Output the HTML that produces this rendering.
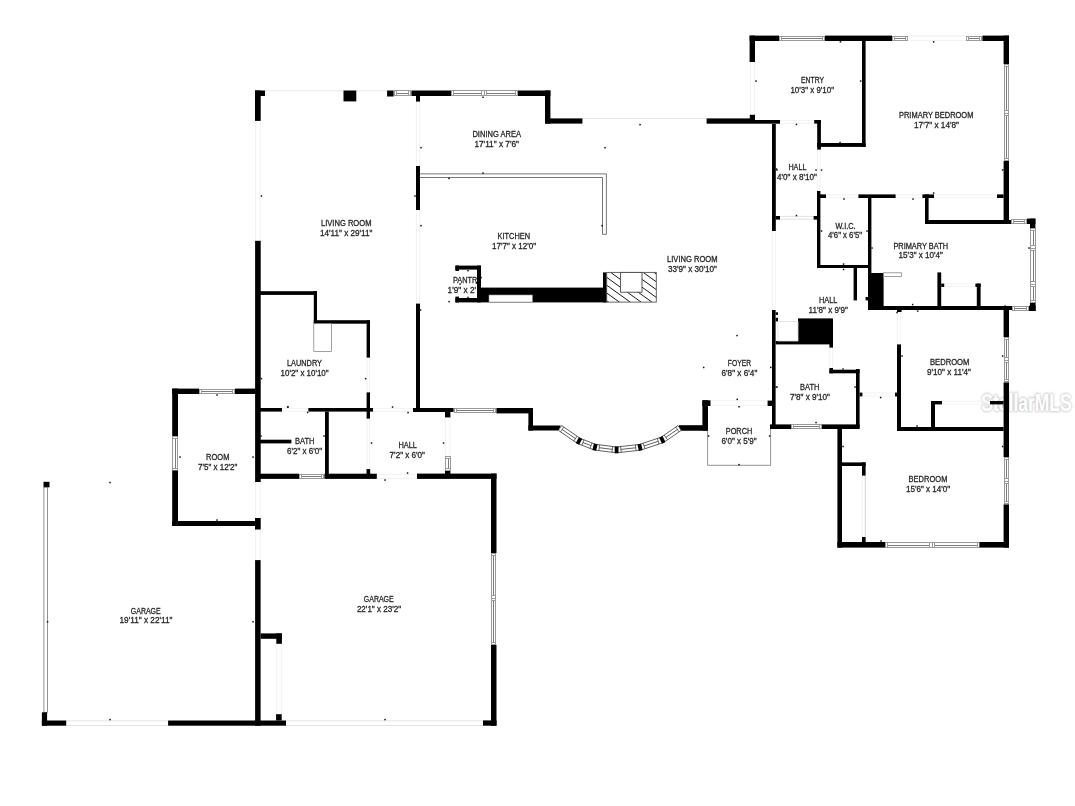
<!DOCTYPE html>
<html><head><meta charset="utf-8"><title>Floor plan</title>
<style>
html,body{margin:0;padding:0;background:#fff;}
body{width:1075px;height:806px;overflow:hidden;font-family:"Liberation Sans",sans-serif;}
svg{display:block}
svg text{font-family:"Liberation Sans",sans-serif;font-size:8.4px;fill:#262626;stroke:#262626;stroke-width:0.28px;text-anchor:middle;}
</style></head><body>
<svg width="1075" height="806" viewBox="0 0 1075 806">
<rect width="1075" height="806" fill="#fff"/>
<defs><filter id="bl" x="-10%" y="-30%" width="120%" height="160%"><feGaussianBlur stdDeviation="0.9"/></filter></defs>
<g id="wm"><text x="1026.5" y="411" textLength="90.4" lengthAdjust="spacingAndGlyphs" filter="url(#bl)" style="font-size:23px;fill:#c4c4c4;stroke:#c4c4c4;stroke-width:1.3px;font-weight:bold">StellarMLS</text>
<text x="1026.5" y="411" textLength="90.4" lengthAdjust="spacingAndGlyphs" style="font-size:23px;fill:#fff;stroke:none;font-weight:bold">StellarMLS</text></g>
<g id="pantrytext" opacity="0.999"><g><text x="467.6" y="282.85" textLength="29.2" lengthAdjust="spacingAndGlyphs">PANTRY</text><text x="447.6" y="292.85" textLength="28.6" lengthAdjust="spacingAndGlyphs" style="text-anchor:start">1'9&quot; x 2'</text></g></g>
<g id="plan" shape-rendering="auto">
<line x1="255.50" y1="120.90" x2="255.50" y2="240.80" stroke="#ededed" stroke-width="0.8"/>
<line x1="260.30" y1="120.90" x2="260.30" y2="240.80" stroke="#ededed" stroke-width="0.8"/>
<line x1="265.00" y1="90.80" x2="343.50" y2="90.80" stroke="#e4e4e4" stroke-width="0.8"/>
<line x1="356.30" y1="90.80" x2="387.00" y2="90.80" stroke="#e4e4e4" stroke-width="0.8"/>
<line x1="416.40" y1="101.60" x2="416.40" y2="166.00" stroke="#ededed" stroke-width="0.8"/>
<line x1="419.60" y1="101.60" x2="419.60" y2="166.00" stroke="#ededed" stroke-width="0.8"/>
<line x1="416.40" y1="210.00" x2="416.40" y2="303.60" stroke="#ededed" stroke-width="0.8"/>
<line x1="419.60" y1="210.00" x2="419.60" y2="303.60" stroke="#ededed" stroke-width="0.8"/>
<line x1="582.40" y1="118.50" x2="706.40" y2="118.50" stroke="#dcdcdc" stroke-width="0.8"/>
<line x1="750.40" y1="62.00" x2="750.40" y2="115.00" stroke="#ededed" stroke-width="0.8"/>
<line x1="754.60" y1="62.00" x2="754.60" y2="115.00" stroke="#ededed" stroke-width="0.8"/>
<line x1="908.00" y1="36.00" x2="966.00" y2="36.00" stroke="#ededed" stroke-width="0.8"/>
<line x1="908.00" y1="40.60" x2="966.00" y2="40.60" stroke="#ededed" stroke-width="0.8"/>
<line x1="780.00" y1="120.40" x2="814.00" y2="120.40" stroke="#ededed" stroke-width="0.8"/>
<line x1="780.00" y1="123.30" x2="814.00" y2="123.30" stroke="#ededed" stroke-width="0.8"/>
<line x1="817.40" y1="149.60" x2="817.40" y2="191.00" stroke="#ededed" stroke-width="0.8"/>
<line x1="820.00" y1="149.60" x2="820.00" y2="191.00" stroke="#ededed" stroke-width="0.8"/>
<line x1="780.00" y1="216.40" x2="813.60" y2="216.40" stroke="#dcdcdc" stroke-width="0.8"/>
<line x1="780.00" y1="219.20" x2="813.60" y2="219.20" stroke="#dcdcdc" stroke-width="0.8"/>
<line x1="826.00" y1="194.80" x2="858.40" y2="194.80" stroke="#ededed" stroke-width="0.8"/>
<line x1="826.00" y1="197.60" x2="858.40" y2="197.60" stroke="#ededed" stroke-width="0.8"/>
<line x1="895.60" y1="194.80" x2="922.40" y2="194.80" stroke="#ededed" stroke-width="0.8"/>
<line x1="895.60" y1="197.60" x2="922.40" y2="197.60" stroke="#ededed" stroke-width="0.8"/>
<line x1="934.00" y1="194.80" x2="997.00" y2="194.80" stroke="#ededed" stroke-width="0.8"/>
<line x1="934.00" y1="197.60" x2="997.00" y2="197.60" stroke="#ededed" stroke-width="0.8"/>
<line x1="772.40" y1="231.00" x2="772.40" y2="310.00" stroke="#ededed" stroke-width="0.8"/>
<line x1="775.20" y1="231.00" x2="775.20" y2="310.00" stroke="#ededed" stroke-width="0.8"/>
<line x1="897.40" y1="312.00" x2="897.40" y2="344.40" stroke="#ededed" stroke-width="0.8"/>
<line x1="900.60" y1="312.00" x2="900.60" y2="344.40" stroke="#ededed" stroke-width="0.8"/>
<line x1="829.80" y1="347.60" x2="829.80" y2="368.00" stroke="#ededed" stroke-width="0.8"/>
<line x1="832.60" y1="347.60" x2="832.60" y2="368.00" stroke="#ededed" stroke-width="0.8"/>
<line x1="862.40" y1="393.00" x2="895.00" y2="393.00" stroke="#ededed" stroke-width="0.8"/>
<line x1="862.40" y1="396.00" x2="895.00" y2="396.00" stroke="#ededed" stroke-width="0.8"/>
<line x1="942.00" y1="401.40" x2="990.00" y2="401.40" stroke="#ededed" stroke-width="0.8"/>
<line x1="942.00" y1="404.00" x2="990.00" y2="404.00" stroke="#ededed" stroke-width="0.8"/>
<line x1="865.30" y1="475.60" x2="865.30" y2="537.00" stroke="#c8c8c8" stroke-width="0.8"/>
<line x1="862.40" y1="475.60" x2="862.40" y2="537.00" stroke="#f0f0f0" stroke-width="0.8"/>
<line x1="944.00" y1="284.00" x2="975.60" y2="284.00" stroke="#ededed" stroke-width="0.8"/>
<line x1="944.00" y1="286.60" x2="975.60" y2="286.60" stroke="#ededed" stroke-width="0.8"/>
<line x1="710.50" y1="400.70" x2="768.00" y2="400.70" stroke="#ededed" stroke-width="0.8"/>
<line x1="710.50" y1="405.60" x2="768.00" y2="405.60" stroke="#ededed" stroke-width="0.8"/>
<line x1="367.00" y1="357.60" x2="367.00" y2="392.40" stroke="#ededed" stroke-width="0.8"/>
<line x1="369.60" y1="357.60" x2="369.60" y2="392.40" stroke="#ededed" stroke-width="0.8"/>
<line x1="282.00" y1="408.40" x2="308.40" y2="408.40" stroke="#ededed" stroke-width="0.8"/>
<line x1="282.00" y1="411.20" x2="308.40" y2="411.20" stroke="#ededed" stroke-width="0.8"/>
<line x1="373.00" y1="408.40" x2="413.00" y2="408.40" stroke="#ededed" stroke-width="0.8"/>
<line x1="373.00" y1="411.20" x2="413.00" y2="411.20" stroke="#ededed" stroke-width="0.8"/>
<line x1="367.00" y1="418.60" x2="367.00" y2="469.00" stroke="#ededed" stroke-width="0.8"/>
<line x1="369.60" y1="418.60" x2="369.60" y2="469.00" stroke="#ededed" stroke-width="0.8"/>
<line x1="445.40" y1="417.40" x2="445.40" y2="456.00" stroke="#ededed" stroke-width="0.8"/>
<line x1="450.00" y1="417.40" x2="450.00" y2="456.00" stroke="#ededed" stroke-width="0.8"/>
<line x1="377.00" y1="474.40" x2="417.00" y2="474.40" stroke="#ededed" stroke-width="0.8"/>
<line x1="377.00" y1="478.60" x2="417.00" y2="478.60" stroke="#ededed" stroke-width="0.8"/>
<line x1="255.50" y1="482.00" x2="255.50" y2="518.00" stroke="#ededed" stroke-width="0.8"/>
<line x1="260.30" y1="482.00" x2="260.30" y2="518.00" stroke="#ededed" stroke-width="0.8"/>
<line x1="255.50" y1="529.50" x2="255.50" y2="560.00" stroke="#ededed" stroke-width="0.8"/>
<line x1="260.30" y1="529.50" x2="260.30" y2="560.00" stroke="#ededed" stroke-width="0.8"/>
<line x1="66.20" y1="720.80" x2="168.10" y2="720.80" stroke="#dcdcdc" stroke-width="0.8"/>
<line x1="66.20" y1="725.50" x2="168.10" y2="725.50" stroke="#dcdcdc" stroke-width="0.8"/>
<line x1="286.00" y1="720.80" x2="483.00" y2="720.80" stroke="#dcdcdc" stroke-width="0.8"/>
<line x1="286.00" y1="725.50" x2="483.00" y2="725.50" stroke="#dcdcdc" stroke-width="0.8"/>
<line x1="276.70" y1="643.80" x2="276.70" y2="714.20" stroke="#ededed" stroke-width="0.8"/>
<line x1="281.30" y1="643.80" x2="281.30" y2="714.20" stroke="#ededed" stroke-width="0.8"/>
<rect x="255.00" y="90.50" width="5.70" height="30.40" fill="#000"/>
<rect x="255.00" y="90.50" width="10.00" height="5.50" fill="#000"/>
<rect x="343.50" y="90.50" width="12.80" height="10.90" fill="#000"/>
<rect x="387.10" y="90.50" width="6.50" height="6.00" fill="#000"/>
<rect x="394.00" y="90.00" width="17.00" height="6.00" fill="#fff" shape-rendering="crispEdges"/>
<rect x="394.00" y="90.00" width="17.00" height="1.00" fill="#9a9a9a" shape-rendering="crispEdges"/>
<rect x="394.00" y="95.00" width="17.00" height="1.00" fill="#9a9a9a" shape-rendering="crispEdges"/>
<rect x="397.00" y="93.00" width="11.00" height="1.00" fill="#7c7c7c" shape-rendering="crispEdges"/>
<rect x="394.00" y="90.00" width="1.00" height="6.00" fill="#9a9a9a" shape-rendering="crispEdges"/>
<rect x="396.00" y="90.00" width="1.00" height="6.00" fill="#9a9a9a" shape-rendering="crispEdges"/>
<rect x="410.00" y="90.00" width="1.00" height="6.00" fill="#9a9a9a" shape-rendering="crispEdges"/>
<rect x="408.00" y="90.00" width="1.00" height="6.00" fill="#9a9a9a" shape-rendering="crispEdges"/>
<rect x="411.40" y="90.50" width="39.60" height="5.50" fill="#000"/>
<rect x="416.00" y="96.00" width="4.00" height="5.60" fill="#000"/>
<rect x="451.00" y="90.00" width="67.00" height="6.00" fill="#fff" shape-rendering="crispEdges"/>
<rect x="451.00" y="90.00" width="67.00" height="1.00" fill="#9a9a9a" shape-rendering="crispEdges"/>
<rect x="451.00" y="95.00" width="67.00" height="1.00" fill="#9a9a9a" shape-rendering="crispEdges"/>
<rect x="454.00" y="93.00" width="61.00" height="1.00" fill="#7c7c7c" shape-rendering="crispEdges"/>
<rect x="451.00" y="90.00" width="1.00" height="6.00" fill="#9a9a9a" shape-rendering="crispEdges"/>
<rect x="453.00" y="90.00" width="1.00" height="6.00" fill="#9a9a9a" shape-rendering="crispEdges"/>
<rect x="517.00" y="90.00" width="1.00" height="6.00" fill="#9a9a9a" shape-rendering="crispEdges"/>
<rect x="515.00" y="90.00" width="1.00" height="6.00" fill="#9a9a9a" shape-rendering="crispEdges"/>
<rect x="482.00" y="91.00" width="5.00" height="4.00" fill="#fff" shape-rendering="crispEdges"/>
<rect x="481.00" y="90.00" width="1.00" height="6.00" fill="#9a9a9a" shape-rendering="crispEdges"/>
<rect x="484.00" y="90.00" width="1.00" height="6.00" fill="#9a9a9a" shape-rendering="crispEdges"/>
<rect x="486.00" y="90.00" width="1.00" height="6.00" fill="#9a9a9a" shape-rendering="crispEdges"/>
<rect x="518.00" y="90.50" width="32.40" height="5.50" fill="#000"/>
<rect x="545.00" y="90.50" width="5.40" height="33.10" fill="#000"/>
<rect x="545.00" y="118.40" width="37.40" height="5.20" fill="#000"/>
<rect x="706.60" y="118.40" width="48.40" height="5.30" fill="#000"/>
<rect x="755.00" y="120.00" width="25.00" height="3.70" fill="#000"/>
<rect x="749.80" y="114.80" width="5.20" height="4.20" fill="#000"/>
<rect x="749.60" y="35.60" width="5.40" height="26.40" fill="#000"/>
<rect x="749.60" y="35.60" width="29.40" height="5.40" fill="#000"/>
<rect x="779.00" y="36.00" width="46.00" height="5.00" fill="#fff" shape-rendering="crispEdges"/>
<rect x="779.00" y="36.00" width="46.00" height="1.00" fill="#9a9a9a" shape-rendering="crispEdges"/>
<rect x="779.00" y="40.00" width="46.00" height="1.00" fill="#9a9a9a" shape-rendering="crispEdges"/>
<rect x="782.00" y="38.00" width="40.00" height="1.00" fill="#7c7c7c" shape-rendering="crispEdges"/>
<rect x="779.00" y="36.00" width="1.00" height="5.00" fill="#9a9a9a" shape-rendering="crispEdges"/>
<rect x="781.00" y="36.00" width="1.00" height="5.00" fill="#9a9a9a" shape-rendering="crispEdges"/>
<rect x="824.00" y="36.00" width="1.00" height="5.00" fill="#9a9a9a" shape-rendering="crispEdges"/>
<rect x="822.00" y="36.00" width="1.00" height="5.00" fill="#9a9a9a" shape-rendering="crispEdges"/>
<rect x="825.00" y="35.60" width="67.00" height="5.40" fill="#000"/>
<rect x="892.00" y="36.00" width="16.00" height="5.00" fill="#fff" shape-rendering="crispEdges"/>
<rect x="892.00" y="36.00" width="16.00" height="1.00" fill="#9a9a9a" shape-rendering="crispEdges"/>
<rect x="892.00" y="40.00" width="16.00" height="1.00" fill="#9a9a9a" shape-rendering="crispEdges"/>
<rect x="895.00" y="38.00" width="10.00" height="1.00" fill="#7c7c7c" shape-rendering="crispEdges"/>
<rect x="892.00" y="36.00" width="1.00" height="5.00" fill="#9a9a9a" shape-rendering="crispEdges"/>
<rect x="894.00" y="36.00" width="1.00" height="5.00" fill="#9a9a9a" shape-rendering="crispEdges"/>
<rect x="907.00" y="36.00" width="1.00" height="5.00" fill="#9a9a9a" shape-rendering="crispEdges"/>
<rect x="905.00" y="36.00" width="1.00" height="5.00" fill="#9a9a9a" shape-rendering="crispEdges"/>
<rect x="966.00" y="36.00" width="16.00" height="5.00" fill="#fff" shape-rendering="crispEdges"/>
<rect x="966.00" y="36.00" width="16.00" height="1.00" fill="#9a9a9a" shape-rendering="crispEdges"/>
<rect x="966.00" y="40.00" width="16.00" height="1.00" fill="#9a9a9a" shape-rendering="crispEdges"/>
<rect x="969.00" y="38.00" width="10.00" height="1.00" fill="#7c7c7c" shape-rendering="crispEdges"/>
<rect x="966.00" y="36.00" width="1.00" height="5.00" fill="#9a9a9a" shape-rendering="crispEdges"/>
<rect x="968.00" y="36.00" width="1.00" height="5.00" fill="#9a9a9a" shape-rendering="crispEdges"/>
<rect x="981.00" y="36.00" width="1.00" height="5.00" fill="#9a9a9a" shape-rendering="crispEdges"/>
<rect x="979.00" y="36.00" width="1.00" height="5.00" fill="#9a9a9a" shape-rendering="crispEdges"/>
<rect x="982.40" y="35.60" width="26.60" height="5.40" fill="#000"/>
<rect x="1003.60" y="35.60" width="5.40" height="28.40" fill="#000"/>
<rect x="1004.00" y="64.00" width="5.00" height="97.00" fill="#fff" shape-rendering="crispEdges"/>
<rect x="1004.00" y="64.00" width="1.00" height="97.00" fill="#9a9a9a" shape-rendering="crispEdges"/>
<rect x="1008.00" y="64.00" width="1.00" height="97.00" fill="#9a9a9a" shape-rendering="crispEdges"/>
<rect x="1006.00" y="67.00" width="1.00" height="91.00" fill="#7c7c7c" shape-rendering="crispEdges"/>
<rect x="1004.00" y="64.00" width="5.00" height="1.00" fill="#9a9a9a" shape-rendering="crispEdges"/>
<rect x="1004.00" y="66.00" width="5.00" height="1.00" fill="#9a9a9a" shape-rendering="crispEdges"/>
<rect x="1004.00" y="160.00" width="5.00" height="1.00" fill="#9a9a9a" shape-rendering="crispEdges"/>
<rect x="1004.00" y="158.00" width="5.00" height="1.00" fill="#9a9a9a" shape-rendering="crispEdges"/>
<rect x="1005.00" y="111.00" width="3.00" height="5.00" fill="#fff" shape-rendering="crispEdges"/>
<rect x="1004.00" y="110.00" width="5.00" height="1.00" fill="#9a9a9a" shape-rendering="crispEdges"/>
<rect x="1004.00" y="113.00" width="5.00" height="1.00" fill="#9a9a9a" shape-rendering="crispEdges"/>
<rect x="1004.00" y="115.00" width="5.00" height="1.00" fill="#9a9a9a" shape-rendering="crispEdges"/>
<rect x="1003.60" y="161.00" width="5.40" height="63.00" fill="#000"/>
<rect x="862.00" y="41.00" width="3.60" height="106.00" fill="#000"/>
<rect x="817.20" y="143.00" width="48.40" height="3.90" fill="#000"/>
<rect x="817.20" y="120.00" width="3.70" height="29.60" fill="#000"/>
<rect x="814.20" y="120.00" width="6.70" height="3.60" fill="#000"/>
<rect x="772.00" y="124.00" width="3.80" height="107.00" fill="#000"/>
<rect x="775.60" y="216.00" width="4.40" height="3.60" fill="#000"/>
<rect x="813.60" y="216.00" width="4.00" height="3.60" fill="#000"/>
<rect x="817.00" y="191.00" width="3.40" height="77.00" fill="#000"/>
<rect x="817.00" y="194.40" width="9.00" height="3.60" fill="#000"/>
<rect x="858.40" y="194.40" width="37.20" height="3.60" fill="#000"/>
<rect x="868.00" y="198.00" width="3.40" height="109.00" fill="#000"/>
<rect x="817.00" y="265.00" width="54.00" height="3.00" fill="#000"/>
<rect x="853.60" y="268.00" width="3.40" height="32.40" fill="#000"/>
<rect x="865.60" y="297.00" width="2.40" height="3.40" fill="#000"/>
<rect x="922.40" y="194.40" width="11.60" height="3.60" fill="#000"/>
<rect x="925.00" y="194.40" width="3.60" height="29.60" fill="#000"/>
<rect x="925.00" y="220.00" width="86.00" height="4.00" fill="#000"/>
<rect x="997.00" y="194.40" width="6.60" height="3.60" fill="#000"/>
<rect x="1011.00" y="219.00" width="16.00" height="5.00" fill="#fff" shape-rendering="crispEdges"/>
<rect x="1011.00" y="219.00" width="16.00" height="1.00" fill="#9a9a9a" shape-rendering="crispEdges"/>
<rect x="1011.00" y="223.00" width="16.00" height="1.00" fill="#9a9a9a" shape-rendering="crispEdges"/>
<rect x="1014.00" y="221.00" width="10.00" height="1.00" fill="#7c7c7c" shape-rendering="crispEdges"/>
<rect x="1011.00" y="219.00" width="1.00" height="5.00" fill="#9a9a9a" shape-rendering="crispEdges"/>
<rect x="1013.00" y="219.00" width="1.00" height="5.00" fill="#9a9a9a" shape-rendering="crispEdges"/>
<rect x="1026.00" y="219.00" width="1.00" height="5.00" fill="#9a9a9a" shape-rendering="crispEdges"/>
<rect x="1024.00" y="219.00" width="1.00" height="5.00" fill="#9a9a9a" shape-rendering="crispEdges"/>
<rect x="1027.00" y="218.60" width="8.40" height="5.40" fill="#000"/>
<rect x="1030.00" y="218.60" width="5.40" height="9.80" fill="#000"/>
<rect x="1030.00" y="228.00" width="6.00" height="75.00" fill="#fff" shape-rendering="crispEdges"/>
<rect x="1030.00" y="228.00" width="1.00" height="75.00" fill="#9a9a9a" shape-rendering="crispEdges"/>
<rect x="1035.00" y="228.00" width="1.00" height="75.00" fill="#9a9a9a" shape-rendering="crispEdges"/>
<rect x="1033.00" y="231.00" width="1.00" height="69.00" fill="#7c7c7c" shape-rendering="crispEdges"/>
<rect x="1030.00" y="228.00" width="6.00" height="1.00" fill="#9a9a9a" shape-rendering="crispEdges"/>
<rect x="1030.00" y="230.00" width="6.00" height="1.00" fill="#9a9a9a" shape-rendering="crispEdges"/>
<rect x="1030.00" y="302.00" width="6.00" height="1.00" fill="#9a9a9a" shape-rendering="crispEdges"/>
<rect x="1030.00" y="300.00" width="6.00" height="1.00" fill="#9a9a9a" shape-rendering="crispEdges"/>
<rect x="1031.00" y="246.00" width="4.00" height="5.00" fill="#fff" shape-rendering="crispEdges"/>
<rect x="1030.00" y="245.00" width="6.00" height="1.00" fill="#9a9a9a" shape-rendering="crispEdges"/>
<rect x="1030.00" y="248.00" width="6.00" height="1.00" fill="#9a9a9a" shape-rendering="crispEdges"/>
<rect x="1030.00" y="250.00" width="6.00" height="1.00" fill="#9a9a9a" shape-rendering="crispEdges"/>
<rect x="1031.00" y="282.00" width="4.00" height="5.00" fill="#fff" shape-rendering="crispEdges"/>
<rect x="1030.00" y="281.00" width="6.00" height="1.00" fill="#9a9a9a" shape-rendering="crispEdges"/>
<rect x="1030.00" y="284.00" width="6.00" height="1.00" fill="#9a9a9a" shape-rendering="crispEdges"/>
<rect x="1030.00" y="286.00" width="6.00" height="1.00" fill="#9a9a9a" shape-rendering="crispEdges"/>
<rect x="1030.00" y="303.00" width="5.60" height="8.00" fill="#000"/>
<rect x="1029.00" y="305.60" width="6.60" height="5.40" fill="#000"/>
<rect x="1012.00" y="306.00" width="17.00" height="5.00" fill="#fff" shape-rendering="crispEdges"/>
<rect x="1012.00" y="306.00" width="17.00" height="1.00" fill="#9a9a9a" shape-rendering="crispEdges"/>
<rect x="1012.00" y="310.00" width="17.00" height="1.00" fill="#9a9a9a" shape-rendering="crispEdges"/>
<rect x="1015.00" y="308.00" width="11.00" height="1.00" fill="#7c7c7c" shape-rendering="crispEdges"/>
<rect x="1012.00" y="306.00" width="1.00" height="5.00" fill="#9a9a9a" shape-rendering="crispEdges"/>
<rect x="1014.00" y="306.00" width="1.00" height="5.00" fill="#9a9a9a" shape-rendering="crispEdges"/>
<rect x="1028.00" y="306.00" width="1.00" height="5.00" fill="#9a9a9a" shape-rendering="crispEdges"/>
<rect x="1026.00" y="306.00" width="1.00" height="5.00" fill="#9a9a9a" shape-rendering="crispEdges"/>
<rect x="870.00" y="273.00" width="13.60" height="34.00" fill="#000"/>
<rect x="883.6" y="272.8" width="18" height="3.6" fill="#fff" stroke="#888" stroke-width="0.8"/>
<rect x="937.40" y="272.40" width="3.80" height="34.60" fill="#000"/>
<rect x="941.20" y="283.60" width="3.00" height="3.40" fill="#000"/>
<rect x="976.80" y="283.60" width="3.80" height="23.40" fill="#000"/>
<rect x="975.40" y="283.60" width="5.20" height="3.40" fill="#000"/>
<rect x="868.00" y="306.00" width="144.00" height="4.00" fill="#000"/>
<rect x="1003.60" y="310.00" width="5.40" height="27.00" fill="#000"/>
<rect x="1004.00" y="337.00" width="5.00" height="45.00" fill="#fff" shape-rendering="crispEdges"/>
<rect x="1004.00" y="337.00" width="1.00" height="45.00" fill="#9a9a9a" shape-rendering="crispEdges"/>
<rect x="1008.00" y="337.00" width="1.00" height="45.00" fill="#9a9a9a" shape-rendering="crispEdges"/>
<rect x="1006.00" y="340.00" width="1.00" height="39.00" fill="#7c7c7c" shape-rendering="crispEdges"/>
<rect x="1004.00" y="337.00" width="5.00" height="1.00" fill="#9a9a9a" shape-rendering="crispEdges"/>
<rect x="1004.00" y="339.00" width="5.00" height="1.00" fill="#9a9a9a" shape-rendering="crispEdges"/>
<rect x="1004.00" y="381.00" width="5.00" height="1.00" fill="#9a9a9a" shape-rendering="crispEdges"/>
<rect x="1004.00" y="379.00" width="5.00" height="1.00" fill="#9a9a9a" shape-rendering="crispEdges"/>
<rect x="1005.00" y="358.00" width="3.00" height="5.00" fill="#fff" shape-rendering="crispEdges"/>
<rect x="1004.00" y="357.00" width="5.00" height="1.00" fill="#9a9a9a" shape-rendering="crispEdges"/>
<rect x="1004.00" y="360.00" width="5.00" height="1.00" fill="#9a9a9a" shape-rendering="crispEdges"/>
<rect x="1004.00" y="362.00" width="5.00" height="1.00" fill="#9a9a9a" shape-rendering="crispEdges"/>
<rect x="1003.60" y="382.40" width="5.40" height="74.60" fill="#000"/>
<rect x="1004.00" y="457.00" width="5.00" height="47.00" fill="#fff" shape-rendering="crispEdges"/>
<rect x="1004.00" y="457.00" width="1.00" height="47.00" fill="#9a9a9a" shape-rendering="crispEdges"/>
<rect x="1008.00" y="457.00" width="1.00" height="47.00" fill="#9a9a9a" shape-rendering="crispEdges"/>
<rect x="1006.00" y="460.00" width="1.00" height="41.00" fill="#7c7c7c" shape-rendering="crispEdges"/>
<rect x="1004.00" y="457.00" width="5.00" height="1.00" fill="#9a9a9a" shape-rendering="crispEdges"/>
<rect x="1004.00" y="459.00" width="5.00" height="1.00" fill="#9a9a9a" shape-rendering="crispEdges"/>
<rect x="1004.00" y="503.00" width="5.00" height="1.00" fill="#9a9a9a" shape-rendering="crispEdges"/>
<rect x="1004.00" y="501.00" width="5.00" height="1.00" fill="#9a9a9a" shape-rendering="crispEdges"/>
<rect x="1005.00" y="479.00" width="3.00" height="5.00" fill="#fff" shape-rendering="crispEdges"/>
<rect x="1004.00" y="478.00" width="5.00" height="1.00" fill="#9a9a9a" shape-rendering="crispEdges"/>
<rect x="1004.00" y="481.00" width="5.00" height="1.00" fill="#9a9a9a" shape-rendering="crispEdges"/>
<rect x="1004.00" y="483.00" width="5.00" height="1.00" fill="#9a9a9a" shape-rendering="crispEdges"/>
<rect x="1003.60" y="504.40" width="5.40" height="43.20" fill="#000"/>
<rect x="897.00" y="344.40" width="4.00" height="86.60" fill="#000"/>
<rect x="897.00" y="427.00" width="106.60" height="4.00" fill="#000"/>
<rect x="897.00" y="309.60" width="4.60" height="2.40" fill="#000"/>
<rect x="895.00" y="392.60" width="2.00" height="3.80" fill="#000"/>
<rect x="931.00" y="401.00" width="11.00" height="3.40" fill="#000"/>
<rect x="931.00" y="401.00" width="4.00" height="26.00" fill="#000"/>
<rect x="990.00" y="401.00" width="13.60" height="3.40" fill="#000"/>
<rect x="772.00" y="310.00" width="3.60" height="118.00" fill="#000"/>
<rect x="775.60" y="312.30" width="2.40" height="2.60" fill="#000"/>
<rect x="775.60" y="317.80" width="2.40" height="3.70" fill="#000"/>
<rect x="798.00" y="318.40" width="35.00" height="25.60" fill="#000"/>
<rect x="829.40" y="344.00" width="3.60" height="3.60" fill="#000"/>
<rect x="775.60" y="341.00" width="57.40" height="3.40" fill="#000"/>
<rect x="778" y="321.6" width="20" height="19.4" fill="#fff" stroke="#ddd" stroke-width="0.8"/>
<rect x="829.40" y="368.00" width="3.60" height="5.30" fill="#000"/>
<rect x="829.40" y="369.70" width="30.20" height="3.60" fill="#000"/>
<rect x="856.00" y="369.00" width="3.60" height="59.00" fill="#000"/>
<rect x="859.60" y="392.60" width="2.80" height="3.80" fill="#000"/>
<rect x="770.00" y="424.40" width="21.00" height="4.60" fill="#000"/>
<rect x="791.00" y="424.00" width="31.00" height="5.00" fill="#fff" shape-rendering="crispEdges"/>
<rect x="791.00" y="424.00" width="31.00" height="1.00" fill="#9a9a9a" shape-rendering="crispEdges"/>
<rect x="791.00" y="428.00" width="31.00" height="1.00" fill="#9a9a9a" shape-rendering="crispEdges"/>
<rect x="794.00" y="426.00" width="25.00" height="1.00" fill="#7c7c7c" shape-rendering="crispEdges"/>
<rect x="791.00" y="424.00" width="1.00" height="5.00" fill="#9a9a9a" shape-rendering="crispEdges"/>
<rect x="793.00" y="424.00" width="1.00" height="5.00" fill="#9a9a9a" shape-rendering="crispEdges"/>
<rect x="821.00" y="424.00" width="1.00" height="5.00" fill="#9a9a9a" shape-rendering="crispEdges"/>
<rect x="819.00" y="424.00" width="1.00" height="5.00" fill="#9a9a9a" shape-rendering="crispEdges"/>
<rect x="822.00" y="424.40" width="37.60" height="4.60" fill="#000"/>
<rect x="767.60" y="400.60" width="4.40" height="5.40" fill="#000"/>
<rect x="837.40" y="429.00" width="4.60" height="118.60" fill="#000"/>
<rect x="837.40" y="542.00" width="47.60" height="5.60" fill="#000"/>
<rect x="885.00" y="542.00" width="95.00" height="6.00" fill="#fff" shape-rendering="crispEdges"/>
<rect x="885.00" y="542.00" width="95.00" height="1.00" fill="#9a9a9a" shape-rendering="crispEdges"/>
<rect x="885.00" y="547.00" width="95.00" height="1.00" fill="#9a9a9a" shape-rendering="crispEdges"/>
<rect x="888.00" y="545.00" width="89.00" height="1.00" fill="#7c7c7c" shape-rendering="crispEdges"/>
<rect x="885.00" y="542.00" width="1.00" height="6.00" fill="#9a9a9a" shape-rendering="crispEdges"/>
<rect x="887.00" y="542.00" width="1.00" height="6.00" fill="#9a9a9a" shape-rendering="crispEdges"/>
<rect x="979.00" y="542.00" width="1.00" height="6.00" fill="#9a9a9a" shape-rendering="crispEdges"/>
<rect x="977.00" y="542.00" width="1.00" height="6.00" fill="#9a9a9a" shape-rendering="crispEdges"/>
<rect x="930.00" y="543.00" width="5.00" height="4.00" fill="#fff" shape-rendering="crispEdges"/>
<rect x="929.00" y="542.00" width="1.00" height="6.00" fill="#9a9a9a" shape-rendering="crispEdges"/>
<rect x="932.00" y="542.00" width="1.00" height="6.00" fill="#9a9a9a" shape-rendering="crispEdges"/>
<rect x="934.00" y="542.00" width="1.00" height="6.00" fill="#9a9a9a" shape-rendering="crispEdges"/>
<rect x="979.60" y="542.00" width="29.40" height="5.60" fill="#000"/>
<rect x="842.00" y="462.40" width="23.60" height="3.60" fill="#000"/>
<rect x="862.00" y="462.40" width="3.60" height="13.20" fill="#000"/>
<rect x="862.00" y="537.00" width="3.60" height="5.00" fill="#000"/>
<rect x="702.40" y="400.30" width="5.60" height="30.20" fill="#000"/>
<rect x="702.40" y="400.30" width="8.10" height="5.70" fill="#000"/>
<rect x="678.80" y="425.40" width="29.20" height="5.10" fill="#000"/>
<path d="M707.6 430 V465.3 H770.6 V429" fill="none" stroke="#777" stroke-width="0.8"/>
<rect x="496.40" y="408.00" width="36.60" height="5.40" fill="#000"/>
<rect x="528.40" y="408.00" width="4.60" height="22.60" fill="#000"/>
<path d="M528.4 425.4 H560.8 L558.6 430.6 H528.4 Z" fill="#000"/>
<path d="M679 425.4 H708 V430.6 H681 Z" fill="#000"/>
<rect x="454.00" y="408.00" width="42.00" height="5.00" fill="#fff" shape-rendering="crispEdges"/>
<rect x="454.00" y="408.00" width="42.00" height="1.00" fill="#9a9a9a" shape-rendering="crispEdges"/>
<rect x="454.00" y="412.00" width="42.00" height="1.00" fill="#9a9a9a" shape-rendering="crispEdges"/>
<rect x="457.00" y="410.00" width="36.00" height="1.00" fill="#7c7c7c" shape-rendering="crispEdges"/>
<rect x="454.00" y="408.00" width="1.00" height="5.00" fill="#9a9a9a" shape-rendering="crispEdges"/>
<rect x="456.00" y="408.00" width="1.00" height="5.00" fill="#9a9a9a" shape-rendering="crispEdges"/>
<rect x="495.00" y="408.00" width="1.00" height="5.00" fill="#9a9a9a" shape-rendering="crispEdges"/>
<rect x="493.00" y="408.00" width="1.00" height="5.00" fill="#9a9a9a" shape-rendering="crispEdges"/>
<rect x="413.00" y="408.00" width="40.60" height="4.00" fill="#000"/>
<rect x="445.00" y="412.00" width="5.40" height="5.40" fill="#000"/>
<rect x="416.00" y="166.00" width="4.00" height="44.00" fill="#000"/>
<rect x="416.00" y="303.60" width="4.00" height="108.40" fill="#000"/>
<rect x="455.40" y="265.60" width="25.60" height="4.00" fill="#000"/>
<rect x="455.40" y="265.60" width="3.60" height="5.40" fill="#000"/>
<rect x="477.00" y="265.60" width="4.00" height="36.80" fill="#000"/>
<rect x="455.40" y="298.00" width="25.60" height="4.40" fill="#000"/>
<rect x="455.40" y="296.60" width="3.60" height="5.80" fill="#000"/>
<rect x="481.00" y="287.60" width="125.60" height="14.80" fill="#000"/>
<rect x="603.00" y="272.40" width="3.60" height="30.00" fill="#000"/>
<rect x="489" y="295" width="43.4" height="7" fill="#fff" stroke="#999" stroke-width="0.6"/>
<rect x="255.10" y="240.80" width="5.60" height="241.20" fill="#000"/>
<rect x="260.00" y="291.20" width="57.00" height="3.70" fill="#000"/>
<rect x="313.80" y="291.20" width="3.20" height="32.50" fill="#000"/>
<rect x="313.80" y="320.20" width="56.20" height="3.50" fill="#000"/>
<rect x="366.60" y="320.40" width="3.40" height="37.20" fill="#000"/>
<rect x="366.60" y="392.40" width="3.40" height="26.20" fill="#000"/>
<rect x="260.00" y="408.00" width="22.00" height="3.60" fill="#000"/>
<rect x="308.40" y="408.00" width="64.60" height="3.60" fill="#000"/>
<rect x="313.8" y="323.6" width="17.8" height="27.8" fill="#fff" stroke="#777" stroke-width="0.7"/>
<rect x="260.00" y="439.70" width="31.40" height="3.70" fill="#000"/>
<rect x="325.00" y="411.60" width="3.80" height="62.40" fill="#000"/>
<rect x="260.00" y="473.70" width="39.00" height="5.20" fill="#000"/>
<rect x="299.00" y="474.00" width="25.00" height="5.00" fill="#fff" shape-rendering="crispEdges"/>
<rect x="299.00" y="474.00" width="25.00" height="1.00" fill="#9a9a9a" shape-rendering="crispEdges"/>
<rect x="299.00" y="478.00" width="25.00" height="1.00" fill="#9a9a9a" shape-rendering="crispEdges"/>
<rect x="302.00" y="476.00" width="19.00" height="1.00" fill="#7c7c7c" shape-rendering="crispEdges"/>
<rect x="299.00" y="474.00" width="1.00" height="5.00" fill="#9a9a9a" shape-rendering="crispEdges"/>
<rect x="301.00" y="474.00" width="1.00" height="5.00" fill="#9a9a9a" shape-rendering="crispEdges"/>
<rect x="323.00" y="474.00" width="1.00" height="5.00" fill="#9a9a9a" shape-rendering="crispEdges"/>
<rect x="321.00" y="474.00" width="1.00" height="5.00" fill="#9a9a9a" shape-rendering="crispEdges"/>
<rect x="324.40" y="473.70" width="52.40" height="5.20" fill="#000"/>
<rect x="366.50" y="469.10" width="3.70" height="4.90" fill="#000"/>
<rect x="417.00" y="473.60" width="79.50" height="5.30" fill="#000"/>
<rect x="445.00" y="470.60" width="5.40" height="3.40" fill="#000"/>
<rect x="445.00" y="456.00" width="6.00" height="15.00" fill="#fff" shape-rendering="crispEdges"/>
<rect x="445.00" y="456.00" width="1.00" height="15.00" fill="#9a9a9a" shape-rendering="crispEdges"/>
<rect x="450.00" y="456.00" width="1.00" height="15.00" fill="#9a9a9a" shape-rendering="crispEdges"/>
<rect x="448.00" y="459.00" width="1.00" height="9.00" fill="#7c7c7c" shape-rendering="crispEdges"/>
<rect x="445.00" y="456.00" width="6.00" height="1.00" fill="#9a9a9a" shape-rendering="crispEdges"/>
<rect x="445.00" y="458.00" width="6.00" height="1.00" fill="#9a9a9a" shape-rendering="crispEdges"/>
<rect x="445.00" y="470.00" width="6.00" height="1.00" fill="#9a9a9a" shape-rendering="crispEdges"/>
<rect x="445.00" y="468.00" width="6.00" height="1.00" fill="#9a9a9a" shape-rendering="crispEdges"/>
<rect x="491.00" y="473.60" width="5.50" height="79.40" fill="#000"/>
<rect x="491.00" y="553.00" width="5.00" height="92.00" fill="#fff" shape-rendering="crispEdges"/>
<rect x="491.00" y="553.00" width="1.00" height="92.00" fill="#9a9a9a" shape-rendering="crispEdges"/>
<rect x="495.00" y="553.00" width="1.00" height="92.00" fill="#9a9a9a" shape-rendering="crispEdges"/>
<rect x="493.00" y="556.00" width="1.00" height="86.00" fill="#7c7c7c" shape-rendering="crispEdges"/>
<rect x="491.00" y="553.00" width="5.00" height="1.00" fill="#9a9a9a" shape-rendering="crispEdges"/>
<rect x="491.00" y="555.00" width="5.00" height="1.00" fill="#9a9a9a" shape-rendering="crispEdges"/>
<rect x="491.00" y="644.00" width="5.00" height="1.00" fill="#9a9a9a" shape-rendering="crispEdges"/>
<rect x="491.00" y="642.00" width="5.00" height="1.00" fill="#9a9a9a" shape-rendering="crispEdges"/>
<rect x="492.00" y="596.00" width="3.00" height="5.00" fill="#fff" shape-rendering="crispEdges"/>
<rect x="491.00" y="595.00" width="5.00" height="1.00" fill="#9a9a9a" shape-rendering="crispEdges"/>
<rect x="491.00" y="598.00" width="5.00" height="1.00" fill="#9a9a9a" shape-rendering="crispEdges"/>
<rect x="491.00" y="600.00" width="5.00" height="1.00" fill="#9a9a9a" shape-rendering="crispEdges"/>
<rect x="491.00" y="645.00" width="5.50" height="80.70" fill="#000"/>
<rect x="483.00" y="720.40" width="13.50" height="5.30" fill="#000"/>
<rect x="172.20" y="388.60" width="26.80" height="5.40" fill="#000"/>
<rect x="199.00" y="389.00" width="36.00" height="5.00" fill="#fff" shape-rendering="crispEdges"/>
<rect x="199.00" y="389.00" width="36.00" height="1.00" fill="#9a9a9a" shape-rendering="crispEdges"/>
<rect x="199.00" y="393.00" width="36.00" height="1.00" fill="#9a9a9a" shape-rendering="crispEdges"/>
<rect x="202.00" y="391.00" width="30.00" height="1.00" fill="#7c7c7c" shape-rendering="crispEdges"/>
<rect x="199.00" y="389.00" width="1.00" height="5.00" fill="#9a9a9a" shape-rendering="crispEdges"/>
<rect x="201.00" y="389.00" width="1.00" height="5.00" fill="#9a9a9a" shape-rendering="crispEdges"/>
<rect x="234.00" y="389.00" width="1.00" height="5.00" fill="#9a9a9a" shape-rendering="crispEdges"/>
<rect x="232.00" y="389.00" width="1.00" height="5.00" fill="#9a9a9a" shape-rendering="crispEdges"/>
<rect x="235.00" y="388.60" width="21.00" height="5.40" fill="#000"/>
<rect x="172.20" y="388.60" width="5.80" height="47.60" fill="#000"/>
<rect x="172.00" y="436.00" width="6.00" height="35.00" fill="#fff" shape-rendering="crispEdges"/>
<rect x="172.00" y="436.00" width="1.00" height="35.00" fill="#9a9a9a" shape-rendering="crispEdges"/>
<rect x="177.00" y="436.00" width="1.00" height="35.00" fill="#9a9a9a" shape-rendering="crispEdges"/>
<rect x="175.00" y="439.00" width="1.00" height="29.00" fill="#7c7c7c" shape-rendering="crispEdges"/>
<rect x="172.00" y="436.00" width="6.00" height="1.00" fill="#9a9a9a" shape-rendering="crispEdges"/>
<rect x="172.00" y="438.00" width="6.00" height="1.00" fill="#9a9a9a" shape-rendering="crispEdges"/>
<rect x="172.00" y="470.00" width="6.00" height="1.00" fill="#9a9a9a" shape-rendering="crispEdges"/>
<rect x="172.00" y="468.00" width="6.00" height="1.00" fill="#9a9a9a" shape-rendering="crispEdges"/>
<rect x="172.20" y="470.60" width="5.80" height="55.40" fill="#000"/>
<rect x="172.20" y="521.00" width="87.80" height="5.00" fill="#000"/>
<rect x="255.00" y="518.00" width="5.70" height="11.50" fill="#000"/>
<rect x="255.10" y="560.10" width="5.50" height="165.60" fill="#000"/>
<rect x="260.60" y="633.40" width="21.30" height="5.40" fill="#000"/>
<rect x="276.30" y="633.40" width="5.60" height="10.40" fill="#000"/>
<rect x="276.10" y="714.20" width="5.60" height="6.30" fill="#000"/>
<rect x="168.10" y="720.50" width="117.90" height="5.20" fill="#000"/>
<rect x="43.50" y="481.80" width="6.00" height="5.50" fill="#000"/>
<rect x="43.9" y="487.3" width="3.6" height="225" fill="#fff" stroke="#777" stroke-width="0.8"/>
<rect x="41.90" y="712.30" width="5.20" height="13.40" fill="#000"/>
<rect x="41.90" y="720.50" width="24.30" height="5.20" fill="#000"/>
<path d="M420 173.9 H606.4 V234.3 H602.5 V177.5 H420" fill="#fff" stroke="#666" stroke-width="0.9"/>
<clipPath id="fp"><rect x="606.7" y="272.4" width="49.6" height="29.7"/></clipPath>
<g clip-path="url(#fp)" stroke="#1a1a1a" stroke-width="1"><line x1="654.05" y1="272.4" x2="695.75" y2="302.42"/><line x1="643.20" y1="272.4" x2="684.90" y2="302.42"/><line x1="632.35" y1="272.4" x2="674.05" y2="302.42"/><line x1="621.50" y1="272.4" x2="663.20" y2="302.42"/><line x1="610.65" y1="272.4" x2="652.35" y2="302.42"/><line x1="599.80" y1="272.4" x2="641.50" y2="302.42"/><line x1="588.95" y1="272.4" x2="630.65" y2="302.42"/><line x1="578.10" y1="272.4" x2="619.80" y2="302.42"/><line x1="567.25" y1="272.4" x2="608.95" y2="302.42"/><line x1="556.40" y1="272.4" x2="598.10" y2="302.42"/></g>
<rect x="606.7" y="272.4" width="49.6" height="29.7" fill="none" stroke="#555" stroke-width="0.9"/>
<rect x="620.6" y="272.4" width="21.4" height="19.8" fill="#fff" stroke="#444" stroke-width="0.9"/>
<polygon points="558.36,430.39 577.36,443.39 580.64,438.61 561.64,425.61" fill="#fff" stroke="#444" stroke-width="0.85"/>
<line x1="562.15" y1="429.47" x2="575.45" y2="438.57" stroke="#444" stroke-width="0.85"/>
<line x1="560.51" y1="431.86" x2="563.78" y2="427.07" stroke="#444" stroke-width="0.8"/>
<line x1="573.81" y1="440.97" x2="577.09" y2="436.18" stroke="#444" stroke-width="0.8"/>
<polygon points="577.95,443.70 593.95,449.90 596.05,444.50 580.05,438.30" fill="#fff" stroke="#444" stroke-width="0.85"/>
<line x1="583.01" y1="442.55" x2="590.99" y2="445.65" stroke="#444" stroke-width="0.85"/>
<line x1="581.96" y1="445.26" x2="584.06" y2="439.85" stroke="#444" stroke-width="0.8"/>
<line x1="589.94" y1="448.35" x2="592.04" y2="442.94" stroke="#444" stroke-width="0.8"/>
<polygon points="594.64,450.08 616.24,452.78 616.96,447.02 595.36,444.32" fill="#fff" stroke="#444" stroke-width="0.85"/>
<line x1="599.27" y1="447.73" x2="612.33" y2="449.37" stroke="#444" stroke-width="0.85"/>
<line x1="598.91" y1="450.61" x2="599.63" y2="444.86" stroke="#444" stroke-width="0.8"/>
<line x1="611.97" y1="452.24" x2="612.69" y2="446.49" stroke="#444" stroke-width="0.8"/>
<polygon points="616.92,452.78 640.32,450.18 639.68,444.42 616.28,447.02" fill="#fff" stroke="#444" stroke-width="0.85"/>
<line x1="620.87" y1="449.43" x2="635.73" y2="447.77" stroke="#444" stroke-width="0.85"/>
<line x1="621.19" y1="452.31" x2="620.55" y2="446.54" stroke="#444" stroke-width="0.8"/>
<line x1="636.05" y1="450.66" x2="635.41" y2="444.89" stroke="#444" stroke-width="0.8"/>
<polygon points="640.91,450.05 663.21,442.65 661.39,437.15 639.09,444.55" fill="#fff" stroke="#444" stroke-width="0.85"/>
<line x1="644.08" y1="445.95" x2="658.22" y2="441.25" stroke="#444" stroke-width="0.85"/>
<line x1="644.99" y1="448.70" x2="643.17" y2="443.19" stroke="#444" stroke-width="0.8"/>
<line x1="659.13" y1="444.01" x2="657.31" y2="438.50" stroke="#444" stroke-width="0.8"/>
<polygon points="663.94,442.29 681.24,430.39 677.96,425.61 660.66,437.51" fill="#fff" stroke="#444" stroke-width="0.85"/>
<line x1="665.84" y1="437.46" x2="677.46" y2="429.47" stroke="#444" stroke-width="0.85"/>
<line x1="667.49" y1="439.85" x2="664.20" y2="435.07" stroke="#444" stroke-width="0.8"/>
<line x1="679.10" y1="431.86" x2="675.81" y2="427.08" stroke="#444" stroke-width="0.8"/>
<polygon points="575.75,442.98 579.08,444.81 582.25,439.02 578.92,437.19" fill="#000"/>
<polygon points="592.39,449.97 596.09,450.85 597.61,444.43 593.91,443.55" fill="#000"/>
<polygon points="614.69,453.20 618.49,453.20 618.51,446.60 614.71,446.60" fill="#000"/>
<polygon points="638.85,450.93 642.56,450.12 641.15,443.67 637.44,444.48" fill="#000"/>
<polygon points="662.04,443.70 665.45,442.03 662.56,436.10 659.15,437.77" fill="#000"/>
<rect x="420.30" y="146.90" width="1.5" height="1.5" fill="#111"/>
<rect x="604.30" y="146.90" width="1.5" height="1.5" fill="#111"/>
<rect x="482.30" y="172.30" width="1.5" height="1.5" fill="#111"/>
<rect x="448.30" y="177.70" width="1.5" height="1.5" fill="#111"/>
<rect x="414.30" y="195.30" width="1.5" height="1.5" fill="#111"/>
<rect x="482.30" y="96.50" width="1.5" height="1.5" fill="#111"/>
<rect x="639.30" y="123.90" width="1.5" height="1.5" fill="#111"/>
<rect x="755.30" y="80.30" width="1.5" height="1.5" fill="#111"/>
<rect x="795.70" y="123.70" width="1.5" height="1.5" fill="#111"/>
<rect x="775.70" y="168.30" width="1.5" height="1.5" fill="#111"/>
<rect x="420.30" y="224.90" width="1.5" height="1.5" fill="#111"/>
<rect x="467.30" y="269.90" width="1.5" height="1.5" fill="#111"/>
<rect x="467.30" y="296.70" width="1.5" height="1.5" fill="#111"/>
<rect x="459.30" y="283.30" width="1.5" height="1.5" fill="#111"/>
<rect x="475.70" y="282.30" width="1.5" height="1.5" fill="#111"/>
<rect x="601.30" y="224.90" width="1.5" height="1.5" fill="#111"/>
<rect x="448.30" y="300.90" width="1.5" height="1.5" fill="#111"/>
<rect x="419.80" y="309.30" width="1.5" height="1.5" fill="#111"/>
<rect x="109.30" y="481.80" width="1.5" height="1.5" fill="#111"/>
<rect x="46.80" y="621.05" width="1.5" height="1.5" fill="#111"/>
<rect x="252.30" y="621.05" width="1.5" height="1.5" fill="#111"/>
<rect x="384.30" y="718.80" width="1.5" height="1.5" fill="#111"/>
<rect x="109.30" y="718.80" width="1.5" height="1.5" fill="#111"/>
<rect x="736.30" y="334.80" width="1.5" height="1.5" fill="#111"/>
<rect x="702.90" y="366.70" width="1.5" height="1.5" fill="#111"/>
<rect x="736.50" y="398.60" width="1.5" height="1.5" fill="#111"/>
<rect x="738.30" y="406.00" width="1.5" height="1.5" fill="#111"/>
<rect x="770.00" y="366.70" width="1.5" height="1.5" fill="#111"/>
<rect x="775.30" y="386.30" width="1.5" height="1.5" fill="#111"/>
<rect x="707.80" y="435.30" width="1.5" height="1.5" fill="#111"/>
<rect x="768.90" y="435.30" width="1.5" height="1.5" fill="#111"/>
<rect x="738.30" y="463.90" width="1.5" height="1.5" fill="#111"/>
<rect x="260.70" y="195.30" width="1.5" height="1.5" fill="#111"/>
<rect x="260.70" y="377.90" width="1.5" height="1.5" fill="#111"/>
<rect x="364.90" y="377.90" width="1.5" height="1.5" fill="#111"/>
<rect x="286.90" y="406.30" width="1.5" height="1.5" fill="#111"/>
<rect x="306.90" y="411.70" width="1.5" height="1.5" fill="#111"/>
<rect x="391.80" y="406.30" width="1.5" height="1.5" fill="#111"/>
<rect x="407.30" y="411.80" width="1.5" height="1.5" fill="#111"/>
<rect x="179.30" y="456.30" width="1.5" height="1.5" fill="#111"/>
<rect x="252.30" y="456.30" width="1.5" height="1.5" fill="#111"/>
<rect x="216.30" y="394.30" width="1.5" height="1.5" fill="#111"/>
<rect x="216.30" y="519.30" width="1.5" height="1.5" fill="#111"/>
<rect x="260.30" y="435.30" width="1.5" height="1.5" fill="#111"/>
<rect x="323.30" y="435.30" width="1.5" height="1.5" fill="#111"/>
<rect x="287.30" y="406.30" width="1.5" height="1.5" fill="#111"/>
<rect x="370.80" y="442.30" width="1.5" height="1.5" fill="#111"/>
<rect x="442.80" y="442.30" width="1.5" height="1.5" fill="#111"/>
<rect x="406.80" y="472.30" width="1.5" height="1.5" fill="#111"/>
<rect x="384.30" y="479.30" width="1.5" height="1.5" fill="#111"/>
<rect x="839.70" y="41.10" width="1.5" height="1.5" fill="#111"/>
<rect x="932.90" y="41.10" width="1.5" height="1.5" fill="#111"/>
<rect x="859.90" y="80.30" width="1.5" height="1.5" fill="#111"/>
<rect x="839.30" y="141.80" width="1.5" height="1.5" fill="#111"/>
<rect x="776.30" y="169.30" width="1.5" height="1.5" fill="#111"/>
<rect x="815.30" y="169.30" width="1.5" height="1.5" fill="#111"/>
<rect x="820.80" y="169.30" width="1.5" height="1.5" fill="#111"/>
<rect x="795.70" y="214.80" width="1.5" height="1.5" fill="#111"/>
<rect x="843.30" y="198.30" width="1.5" height="1.5" fill="#111"/>
<rect x="820.80" y="230.30" width="1.5" height="1.5" fill="#111"/>
<rect x="866.30" y="230.30" width="1.5" height="1.5" fill="#111"/>
<rect x="842.80" y="263.30" width="1.5" height="1.5" fill="#111"/>
<rect x="842.80" y="268.80" width="1.5" height="1.5" fill="#111"/>
<rect x="871.30" y="247.30" width="1.5" height="1.5" fill="#111"/>
<rect x="912.30" y="198.30" width="1.5" height="1.5" fill="#111"/>
<rect x="932.90" y="192.30" width="1.5" height="1.5" fill="#111"/>
<rect x="1001.90" y="169.30" width="1.5" height="1.5" fill="#111"/>
<rect x="1028.30" y="247.30" width="1.5" height="1.5" fill="#111"/>
<rect x="911.90" y="303.80" width="1.5" height="1.5" fill="#111"/>
<rect x="896.30" y="311.80" width="1.5" height="1.5" fill="#111"/>
<rect x="916.90" y="310.30" width="1.5" height="1.5" fill="#111"/>
<rect x="901.30" y="355.30" width="1.5" height="1.5" fill="#111"/>
<rect x="1001.90" y="355.30" width="1.5" height="1.5" fill="#111"/>
<rect x="916.30" y="425.30" width="1.5" height="1.5" fill="#111"/>
<rect x="879.90" y="396.80" width="1.5" height="1.5" fill="#111"/>
<rect x="776.30" y="386.30" width="1.5" height="1.5" fill="#111"/>
<rect x="854.30" y="386.30" width="1.5" height="1.5" fill="#111"/>
<rect x="842.30" y="368.30" width="1.5" height="1.5" fill="#111"/>
<rect x="815.30" y="421.80" width="1.5" height="1.5" fill="#111"/>
<rect x="842.30" y="445.80" width="1.5" height="1.5" fill="#111"/>
<rect x="1001.90" y="445.80" width="1.5" height="1.5" fill="#111"/>
<rect x="880.30" y="540.30" width="1.5" height="1.5" fill="#111"/>
<rect x="1004.30" y="305.30" width="1.5" height="1.5" fill="#111"/>
</g>
<g id="labels" opacity="0.999">
<text x="496.70" y="136.95" textLength="48.6" lengthAdjust="spacingAndGlyphs">DINING AREA</text>
<text x="496.70" y="146.95" textLength="44.6" lengthAdjust="spacingAndGlyphs">17'11&quot; x 7'6&quot;</text>
<text x="346.20" y="226.05" textLength="50.5" lengthAdjust="spacingAndGlyphs">LIVING ROOM</text>
<text x="346.20" y="235.65" textLength="52.5" lengthAdjust="spacingAndGlyphs">14'11&quot; x 29'11&quot;</text>
<text x="812.50" y="83.25" textLength="23.0" lengthAdjust="spacingAndGlyphs">ENTRY</text>
<text x="812.20" y="93.45" textLength="43.6" lengthAdjust="spacingAndGlyphs">10'3&quot; x 9'10&quot;</text>
<text x="936.20" y="117.50" textLength="74.4" lengthAdjust="spacingAndGlyphs">PRIMARY BEDROOM</text>
<text x="936.50" y="127.95" textLength="45.0" lengthAdjust="spacingAndGlyphs">17'7&quot; x 14'8&quot;</text>
<text x="797.40" y="170.45" textLength="18.0" lengthAdjust="spacingAndGlyphs">HALL</text>
<text x="797.00" y="180.05" textLength="40.0" lengthAdjust="spacingAndGlyphs">4'0&quot; x 8'10&quot;</text>
<text x="845.60" y="228.85" textLength="20.0" lengthAdjust="spacingAndGlyphs">W.I.C.</text>
<text x="845.00" y="238.45" textLength="34.0" lengthAdjust="spacingAndGlyphs">4'6&quot; x 6'5&quot;</text>
<text x="920.70" y="248.85" textLength="54.6" lengthAdjust="spacingAndGlyphs">PRIMARY BATH</text>
<text x="920.80" y="258.45" textLength="44.4" lengthAdjust="spacingAndGlyphs">15'3&quot; x 10'4&quot;</text>
<text x="828.20" y="303.25" textLength="18.4" lengthAdjust="spacingAndGlyphs">HALL</text>
<text x="828.30" y="313.25" textLength="39.4" lengthAdjust="spacingAndGlyphs">11'8&quot; x 9'9&quot;</text>
<text x="949.70" y="365.20" textLength="39.4" lengthAdjust="spacingAndGlyphs">BEDROOM</text>
<text x="949.00" y="374.50" textLength="44.0" lengthAdjust="spacingAndGlyphs">9'10&quot; x 11'4&quot;</text>
<text x="809.70" y="389.85" textLength="19.4" lengthAdjust="spacingAndGlyphs">BATH</text>
<text x="810.00" y="399.85" textLength="40.0" lengthAdjust="spacingAndGlyphs">7'8&quot; x 9'10&quot;</text>
<text x="928.00" y="481.85" textLength="38.8" lengthAdjust="spacingAndGlyphs">BEDROOM</text>
<text x="928.00" y="491.85" textLength="44.0" lengthAdjust="spacingAndGlyphs">15'6&quot; x 14'0&quot;</text>
<text x="739.40" y="366.15" textLength="23.2" lengthAdjust="spacingAndGlyphs">FOYER</text>
<text x="739.40" y="376.15" textLength="35.8" lengthAdjust="spacingAndGlyphs">6'8&quot; x 6'4&quot;</text>
<text x="739.00" y="434.05" textLength="26.4" lengthAdjust="spacingAndGlyphs">PORCH</text>
<text x="739.00" y="444.05" textLength="35.2" lengthAdjust="spacingAndGlyphs">6'0&quot; x 5'9&quot;</text>
<text x="692.30" y="261.85" textLength="50.6" lengthAdjust="spacingAndGlyphs">LIVING ROOM</text>
<text x="692.50" y="271.85" textLength="49.0" lengthAdjust="spacingAndGlyphs">33'9&quot; x 30'10&quot;</text>
<text x="513.80" y="239.05" textLength="32.4" lengthAdjust="spacingAndGlyphs">KITCHEN</text>
<text x="514.00" y="248.85" textLength="44.0" lengthAdjust="spacingAndGlyphs">17'7&quot; x 12'0&quot;</text>
<text x="304.50" y="365.85" textLength="35.0" lengthAdjust="spacingAndGlyphs">LAUNDRY</text>
<text x="304.60" y="376.25" textLength="48.0" lengthAdjust="spacingAndGlyphs">10'2&quot; x 10'10&quot;</text>
<text x="217.70" y="460.25" textLength="23.4" lengthAdjust="spacingAndGlyphs">ROOM</text>
<text x="217.70" y="470.45" textLength="39.4" lengthAdjust="spacingAndGlyphs">7'5&quot; x 12'2&quot;</text>
<text x="304.70" y="443.85" textLength="19.4" lengthAdjust="spacingAndGlyphs">BATH</text>
<text x="304.50" y="453.85" textLength="35.0" lengthAdjust="spacingAndGlyphs">6'2&quot; x 6'0&quot;</text>
<text x="407.70" y="447.85" textLength="18.6" lengthAdjust="spacingAndGlyphs">HALL</text>
<text x="407.30" y="457.85" textLength="35.4" lengthAdjust="spacingAndGlyphs">7'2&quot; x 6'0&quot;</text>
<text x="145.75" y="613.60" textLength="30.0" lengthAdjust="spacingAndGlyphs">GARAGE</text>
<text x="146.00" y="623.25" textLength="53.0" lengthAdjust="spacingAndGlyphs">19'11&quot; x 22'11&quot;</text>
<text x="378.75" y="601.60" textLength="30.0" lengthAdjust="spacingAndGlyphs">GARAGE</text>
<text x="379.00" y="612.10" textLength="44.2" lengthAdjust="spacingAndGlyphs">22'1&quot; x 23'2&quot;</text>
</g>
<g id="wm2"></g>
</svg>
</body></html>
